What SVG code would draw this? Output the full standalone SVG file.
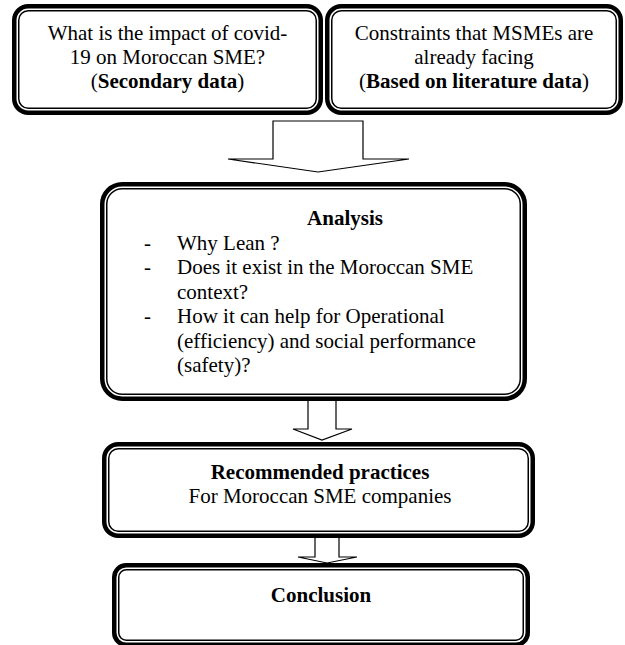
<svg xmlns="http://www.w3.org/2000/svg" width="625" height="645" viewBox="0 0 625 645">
<style>
.thick{fill:none;stroke:#000;stroke-width:4.5}
.thin{fill:none;stroke:#000;stroke-width:1.5}
.bg{fill:#fff;stroke:none}
.arrow{fill:#fff;stroke:#000;stroke-width:1.2;stroke-linejoin:miter}
text{font-family:"Liberation Serif","Times New Roman",serif;font-size:21px;fill:#000}
.c{text-anchor:middle}
.b{font-weight:bold}
</style>
<rect width="625" height="645" fill="#fff"/>
<g id="connectors">
<polygon class="arrow" points="273,121 363,121 363,159 409,159 318,172 228,159 273,159"/>
<polygon class="arrow" points="308,400 336,400 336,429 352,429 322,440 293,429 308,429"/>
<polygon class="arrow" points="315,537 339,537 339,557 357,557 327,563 298,557 315,557"/>
</g>
<g id="node-impact">
<rect class="thick" x="14.25" y="6.25" width="306.5" height="106.5" rx="14"/>
<rect class="thin" x="18.75" y="10.75" width="297.5" height="97.5" rx="9.5"/>
<text class="c" x="167.5" y="40">What is the impact of covid-</text>
<text class="c" x="167.5" y="64">19 on Moroccan SME?</text>
<text class="c" x="167.5" y="88">(<tspan class="b">Secondary data</tspan>)</text>
</g>
<g id="node-constraints">
<rect class="thick" x="327.25" y="6.25" width="293.5" height="106.5" rx="14"/>
<rect class="thin" x="331.75" y="10.75" width="284.5" height="97.5" rx="9.5"/>
<text class="c" x="474" y="40">Constraints that MSMEs are</text>
<text class="c" x="474" y="64">already facing</text>
<text class="c" x="474" y="88">(<tspan class="b">Based on literature data</tspan>)</text>
</g>
<g id="node-analysis">
<rect class="thick" x="102.25" y="184.25" width="422.5" height="214.5" rx="20"/>
<rect class="thin" x="106.75" y="188.75" width="413.5" height="205.5" rx="15.5"/>
<text class="c b" x="345" y="225">Analysis</text>
<text x="144" y="249.5">-</text>
<text x="177" y="249.5">Why Lean ?</text>
<text x="144" y="274">-</text>
<text x="177" y="274">Does it exist in the Moroccan SME</text>
<text x="177" y="298.5">context?</text>
<text x="144" y="323">-</text>
<text x="177" y="323">How it can help for Operational</text>
<text x="177" y="347.5">(efficiency) and social performance</text>
<text x="177" y="372">(safety)?</text>
</g>
<g id="node-recommended">
<rect class="thick" x="104.25" y="444.25" width="428.5" height="91.5" rx="14"/>
<rect class="thin" x="108.75" y="448.75" width="419.5" height="82.5" rx="9.5"/>
<text class="c b" x="320" y="479">Recommended practices</text>
<text class="c" x="320" y="503">For Moroccan SME companies</text>
</g>
<g id="node-conclusion">
<rect class="thick" x="114.25" y="565.25" width="413.5" height="79.5" rx="12"/>
<rect class="thin" x="118.75" y="569.75" width="404.5" height="70.5" rx="7.5"/>
<text class="c b" x="321" y="602">Conclusion</text>
</g>
</svg>
